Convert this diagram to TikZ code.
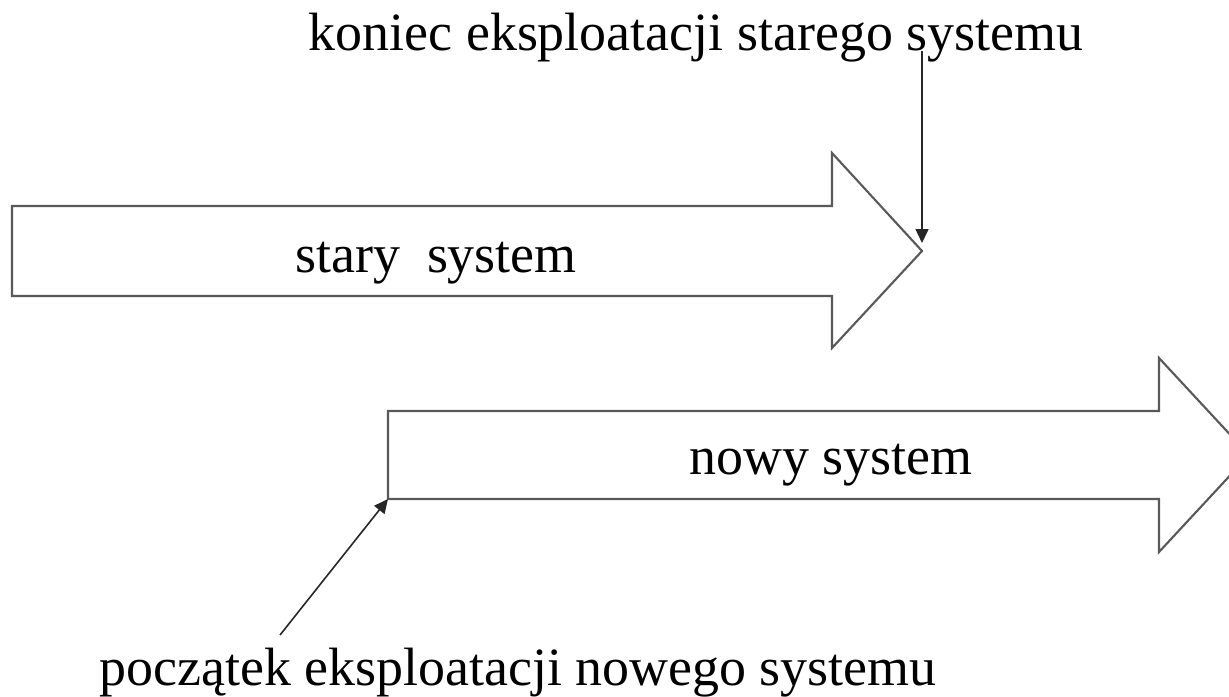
\documentclass[tikz,border=0pt]{standalone}
\usepackage{fontspec}
\setmainfont{Liberation Serif}
\usetikzlibrary{arrows.meta}

\tikzset{
  blockarrow/.style={draw=black!65, line width=1.2pt, fill=white, line join=miter},
  pointer/.style={draw=black!85, line width=0.9pt, -{Triangle[length=0.28cm,width=0.26cm]}},
  label/.style={inner sep=0pt, anchor=base, font=\fontsize{30.7}{36}\selectfont}
}

\begin{document}
\begin{tikzpicture}[x=0.02cm, y=-0.02cm]
  \useasboundingbox (0,0) rectangle (1229,696);
  \clip (0,0) rectangle (1229,696);

  % old system
  \draw[blockarrow] (12,206)--(832,206)--(832,153)--(922,251)--(832,348)--(832,296)--(12,296)--cycle;
  \coordinate (oldtip) at (922,251);
  % new system
  \draw[blockarrow] (388,411)--(1159,411)--(1159,358)--(1249,455)--(1159,552)--(1159,499)--(388,499)--cycle;
  \coordinate (newtail) at (388,499);
  \coordinate (pstart) at (280,635);

  \node[label] (koniec) at (696,51) {koniec eksploatacji starego systemu};
  \node[label] (stary) at (436,272) {stary\ \ system};
  \node[label] (nowy) at (831,474) {nowy system};
  \node[label] (poczatek) at (518,685) {początek eksploatacji nowego systemu};

  \draw[pointer, shorten >=0.16cm] (koniec.base -| oldtip) -- (oldtip);
  \draw[pointer] (pstart) -- (newtail);
\end{tikzpicture}
\end{document}
